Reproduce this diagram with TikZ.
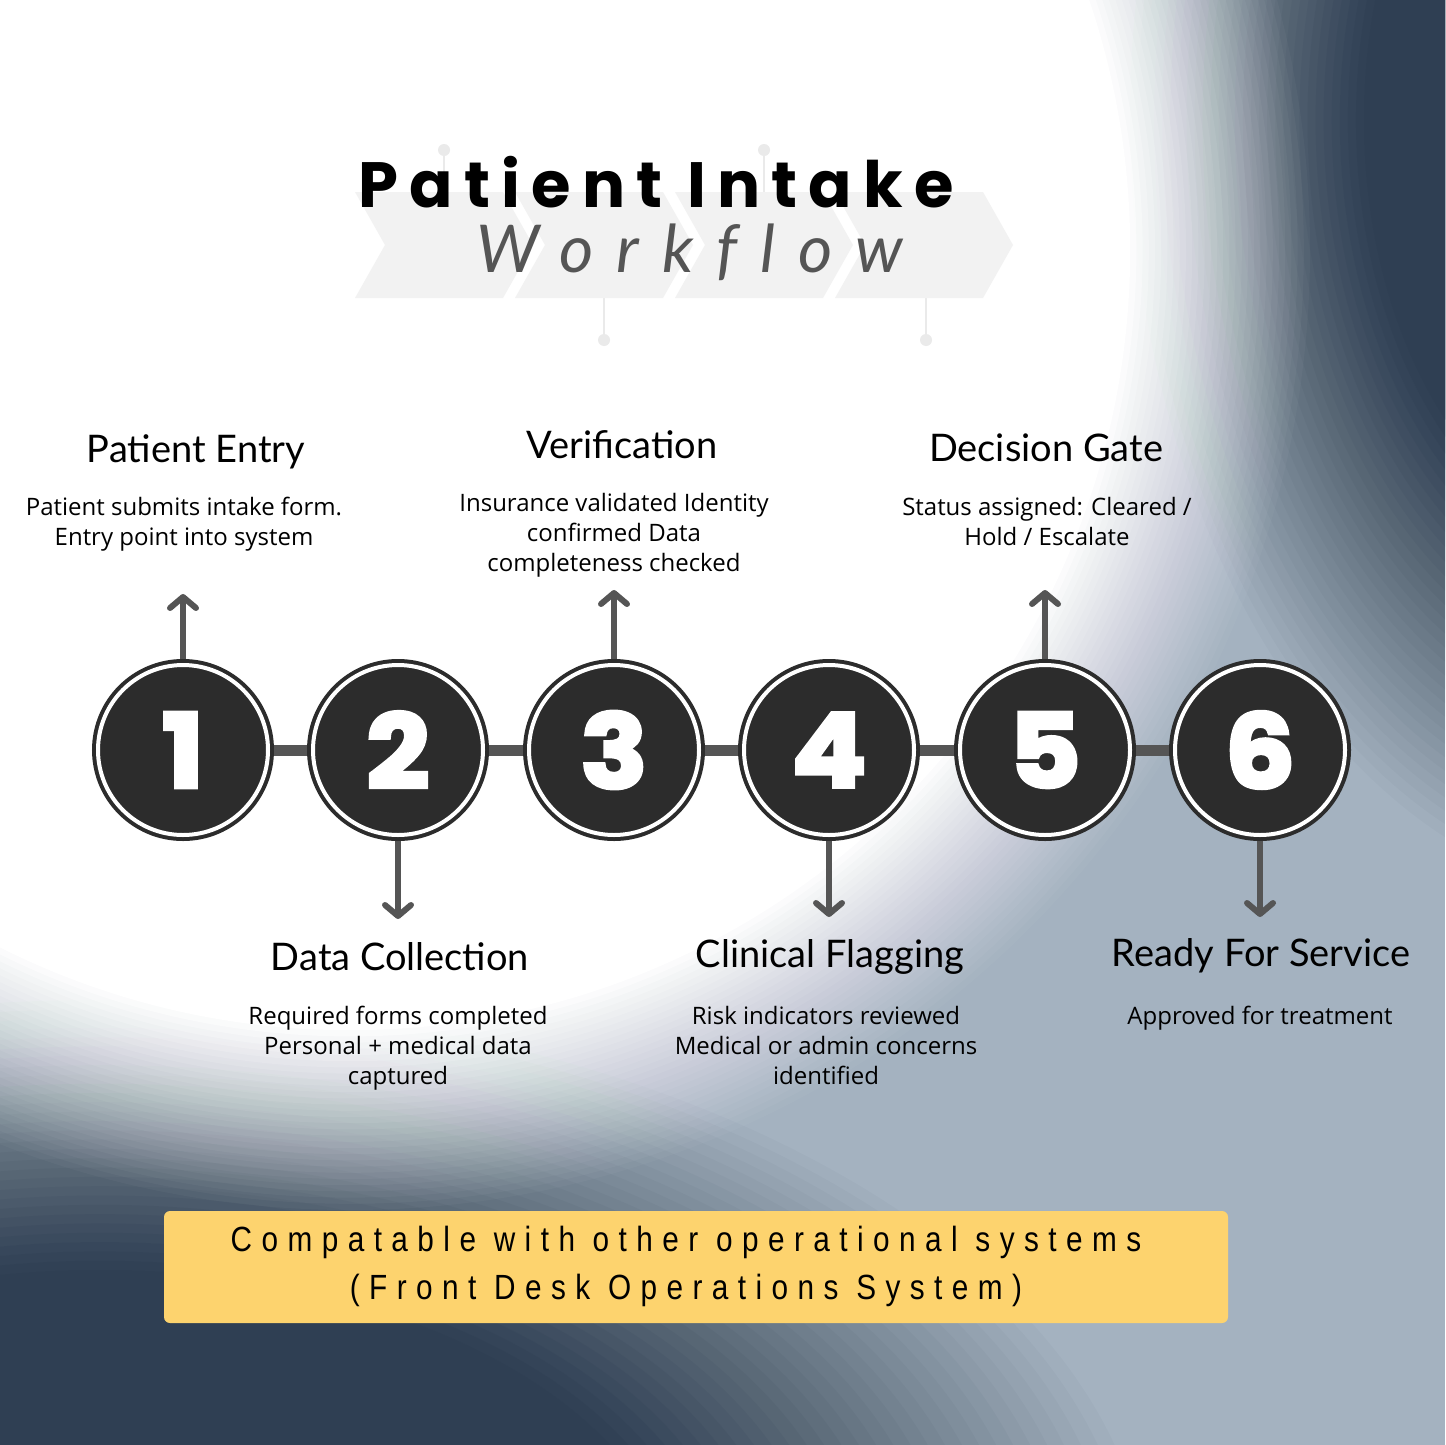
\documentclass[tikz,border=0pt]{standalone}
\usepackage{fontspec}
\usepackage{tikz}
\usetikzlibrary{arrows.meta}

\newfontfamily\titlefont{Poppins}[LetterSpace=17.5]
\newfontfamily\flowfont{Lato}[LetterSpace=35, Ligatures=NoCommon]
\newfontfamily\headfont{Lato}
\newfontfamily\notefont{Open Sans}
\newfontfamily\digitfont{Poppins}[BoldFeatures={FakeBold=4, FakeStretch=1.08}]
\newfontfamily\boxfont{Liberation Sans}[FakeStretch=0.85, LetterSpace=27]

\definecolor{navy}{HTML}{2F3F53}
\definecolor{mist}{HTML}{A4B2C0}
\definecolor{coal}{HTML}{2C2C2C}
\definecolor{steel}{HTML}{555555}
\definecolor{chev}{HTML}{F2F2F2}
\definecolor{dotgray}{HTML}{EAEAEA}
\definecolor{banana}{HTML}{FDD36E}

\tikzstyle{arrow} = [line width=6pt, steel, -{Straight Barb[length=11pt, width=26pt, round]}]
\tikzstyle{bar} = [line width=11pt, steel]
\tikzstyle{stephead} = [font=\headfont\fontsize{38}{44}\selectfont, anchor=base]
\tikzstyle{stepnote} = [font=\notefont\fontsize{24}{30}\selectfont, align=center, anchor=north]

\begin{document}
\begin{tikzpicture}[x=1pt, y=-1pt, every node/.style={inner sep=0pt},
    stepdot/.style={circle, draw=coal, line width=4pt, double=white, double distance=4pt, fill=coal,
      minimum size=170pt, outer sep=6pt, text=white, font=\digitfont\bfseries\fontsize{102}{102}\selectfont}]
        \useasboundingbox (0,0) rectangle (1445,1445);

        % Background: soft layers
        \fill[mist] (0,0) rectangle (1445,1445);
        \begin{scope}
          \clip (0,0) rectangle (1445,1445);
          \foreach \n [evaluate=\n as \op using 1/(31-\n), evaluate=\n as \s using 1-(\n-1)*0.45/29] in {1,...,30}
            \fill[navy, opacity=\op] (1650,120) ellipse ({520*\s} and {780*\s});
          \foreach \n [evaluate=\n as \op using 1/(31-\n), evaluate=\n as \s using 1-(\n-1)*0.45/29] in {1,...,30}
            \fill[navy, opacity=\op] (100,1600) ellipse ({1050*\s} and {600*\s});
          \foreach \n [evaluate=\n as \op using 1/(31-\n), evaluate=\n as \rr using 960-(\n-1)*6.2] in {1,...,30}
            \fill[white, opacity=\op] (350,250) circle (\rr);
        \end{scope}

        % Title chevrons
        \draw[dotgray, line width=1.5pt] (444,150) -- (444,192);
        \draw[dotgray, line width=1.5pt] (764,150) -- (764,192);
        \draw[dotgray, line width=1.5pt] (604,298) -- (604,340);
        \draw[dotgray, line width=1.5pt] (926,298) -- (926,340);
        \fill[dotgray] (444,150) circle (6);
        \fill[dotgray] (764,150) circle (6);
        \fill[dotgray] (604,340) circle (6);
        \fill[dotgray] (926,340) circle (6);
        \fill[chev] (355,192) -- (503,192) -- (533,245) -- (503,298) -- (355,298) -- (385,245) -- cycle;
        \fill[chev] (515,192) -- (663,192) -- (693,245) -- (663,298) -- (515,298) -- (545,245) -- cycle;
        \fill[chev] (675,192) -- (823,192) -- (853,245) -- (823,298) -- (675,298) -- (705,245) -- cycle;
        \fill[chev] (835,192) -- (983,192) -- (1013,245) -- (983,298) -- (835,298) -- (865,245) -- cycle;

        \node[font=\titlefont\bfseries\fontsize{64}{64}\selectfont, anchor=base] (title) at (656,207) {Patient Intake};
        \node[font=\flowfont\itshape\fontsize{66}{66}\selectfont, text=steel, anchor=base] (subtitle) at (690,272) {Workflow};

        % Steps
        \node[stepdot] (S1) at (183,750) {1};
        \node[stepdot] (S2) at (398,750) {2};
        \node[stepdot] (S3) at (614,750) {3};
        \node[stepdot] (S4) at (829,750) {4};
        \node[stepdot] (S5) at (1045,750) {5};
        \node[stepdot] (S6) at (1260,750) {6};

        % Links - gray
        \draw[bar] (S1) -- (S2);
        \draw[bar] (S2) -- (S3);
        \draw[bar] (S3) -- (S4);
        \draw[bar] (S4) -- (S5);
        \draw[bar] (S5) -- (S6);

        % Arrows
        \coordinate (P1) at (183,594);
        \coordinate (P2) at (398,919);
        \coordinate (P3) at (614,590);
        \coordinate (P4) at (829,917);
        \coordinate (P5) at (1045,590);
        \coordinate (P6) at (1260,917);
        \draw[arrow] (S1) -- (P1);
        \draw[arrow] (S2) -- (P2);
        \draw[arrow] (S3) -- (P3);
        \draw[arrow] (S4) -- (P4);
        \draw[arrow] (S5) -- (P5);
        \draw[arrow] (S6) -- (P6);

        % Labels
        \node[stephead] (H1) at (196,462) {Patient Entry};
        \node[stephead] (H2) at (400,970) {Data Collection};
        \node[stephead] (H3) at (622,458) {Verification};
        \node[stephead] (H4) at (830,967) {Clinical Flagging};
        \node[stephead] (H5) at (1046,461) {Decision Gate};
        \node[stephead] (H6) at (1261,966) {Ready For Service};

        \node[stepnote] (N1) at (184,497) {Patient submits intake form.\\Entry point into system};
        \node[stepnote] (N2) at (398,1006) {Required forms completed\\Personal + medical data\\captured};
        \node[stepnote] (N3) at (614,493) {Insurance validated Identity\\confirmed Data\\completeness checked};
        \node[stepnote] (N4) at (826,1006) {Risk indicators reviewed\\Medical or admin concerns\\identified};
        \node[stepnote] (N5) at (1047,497) {Status assigned: Cleared /\\Hold / Escalate};
        \node[stepnote] (N6) at (1260,1006) {Approved for treatment};

        % Footer
        \node[fill=banana, rounded corners=6pt, minimum width=1064pt, minimum height=112pt] (box) at (696,1267) {};
        \node[font=\boxfont\fontsize{35}{48}\selectfont, align=center] (boxtext) at (686,1266) {Compatable with other operational systems\\(Front Desk Operations System)};
      \end{tikzpicture}
\end{document}
